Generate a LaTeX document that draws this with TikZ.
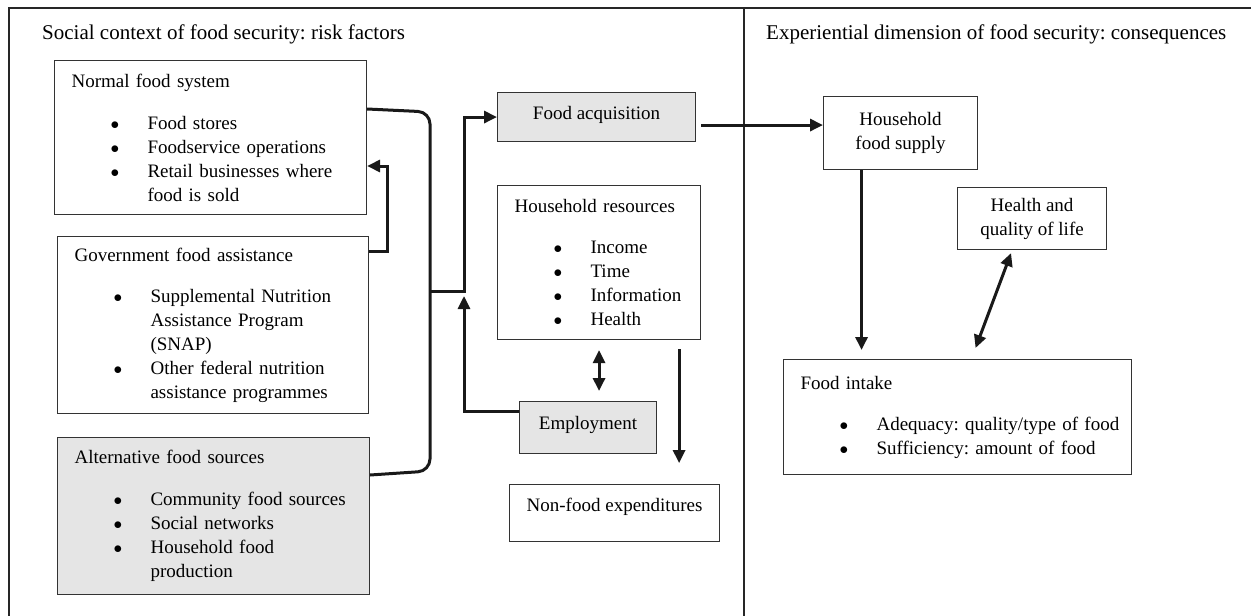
\documentclass[tikz,border=0pt]{standalone}
\usepackage{fontspec}
\setmainfont{Liberation Serif}
\usetikzlibrary{arrows.meta}
\frenchspacing

\newcommand{\itm}[1]{\hspace*{39pt}\makebox[37pt][l]{$\bullet$}\mbox{#1}}
\newcommand{\cont}[1]{\hspace*{76pt}\mbox{#1}}

\begin{document}
\begin{tikzpicture}[
  x=1pt, y=-1pt,
  box/.style={draw=black!80, line width=1.1pt, anchor=north west, font=\fontsize{19}{24}\selectfont, inner ysep=4pt},
  list/.style={box, align=left, inner xsep=17pt},
  cbox/.style={box, align=center, inner sep=2pt},
  filled/.style={fill=black!10},
  head/.style={anchor=base west, font=\fontsize{21}{25}\selectfont, inner sep=0pt},
  link/.style={line width=3pt, draw=black!90},
  arr/.style={link, -{Triangle[length=13pt,width=12pt]}},
  arr2/.style={link, {Triangle[length=13pt,width=12pt]}-{Triangle[length=13pt,width=12pt]}}
]
\useasboundingbox (0,0) rectangle (1251,616);

% frame and divider
\draw[line width=2pt, black!85] (9,616) -- (9,8) -- (1251,8);
\draw[line width=2pt, black!85] (744,8) -- (744,616);

\node[head] (lhead) at (42,39) {Social context of food security: risk factors};
\node[head] (rhead) at (766,39) {Experiential dimension of food security: consequences};

% risk factors
\node[list, text width=278pt, minimum height=154pt] (normal) at (54,60) {Normal food system\\[18pt] \itm{Food stores}\\ \itm{Foodservice operations}\\ \itm{Retail businesses where}\\ \cont{food is sold}};
\node[list, text width=277pt, minimum height=177pt] (gov) at (57,236) {Government food assistance\\[17pt] \itm{Supplemental Nutrition}\\ \cont{Assistance Program}\\ \cont{(SNAP)}\\ \itm{Other federal nutrition}\\ \cont{assistance programmes}};
\node[list, filled, text width=278pt, minimum height=157pt] (alt) at (57,437) {Alternative food sources\\[18pt] \itm{Community food sources}\\ \itm{Social networks}\\ \itm{Household food}\\ \cont{production}};

\node[cbox, filled, minimum width=198pt, minimum height=49pt, text depth=9pt] (acq) at (497,92) {Food acquisition};
\node[list, text width=169pt, minimum height=154pt] (res) at (497,185) {Household resources\\[17pt] \itm{Income}\\ \itm{Time}\\ \itm{Information}\\ \itm{Health}};
\node[cbox, filled, minimum width=137pt, minimum height=52pt, text depth=10pt] (emp) at (519,401) {Employment};
\node[cbox, minimum width=210pt, minimum height=57pt, text depth=17pt] (nonfood) at (509,484) {Non-food expenditures};

% consequences
\node[cbox, minimum width=154pt, minimum height=73pt] (supply) at (823,96) {Household\\food supply};
\node[cbox, minimum width=149pt, minimum height=62pt] (health) at (957,187) {Health and\\quality of life};
\node[list, text width=314pt, minimum height=115pt] (intake) at (783,359) {Food intake\\[17pt] \itm{Adequacy: quality/type of food}\\ \itm{Sufficiency: amount of food}};

\coordinate (join) at (430,291);
\coordinate (fork) at (464,291);

\draw[link, rounded corners=12pt] ([yshift=-49pt]normal.north east) -- ([yshift=-52pt]normal.north east -| join) -- ([yshift=-34pt]alt.north east -| join) -- ([yshift=-38pt]alt.north east);
\draw[arr] (join) -- (fork) |- (acq.west);
\draw[arr] ([yshift=-15pt]gov.north east) -- ++(18,0) |- ([yshift=-106pt]normal.north east);
\draw[arr] ([yshift=-10pt]emp.north west) -| ([yshift=-5pt]fork);
\draw[arr2] ([yshift=-10pt]res.south) -- ([yshift=10pt]emp.north -| res.south);
\draw[arr] ([xshift=-22pt,yshift=-9pt]res.south east) -- ++(0,114);
\draw[arr] ([xshift=5pt,yshift=-8pt]acq.east) -- ([yshift=-8pt]acq.east -| supply.west);
\draw[arr] ([xshift=-39pt]supply.south) -- ([xshift=-39pt,yshift=9pt]intake.north -| supply.south);
\draw[arr2] ([xshift=18pt,yshift=11pt]intake.north) -- ([xshift=-21pt,yshift=-3pt]health.south);
\end{tikzpicture}
\end{document}
